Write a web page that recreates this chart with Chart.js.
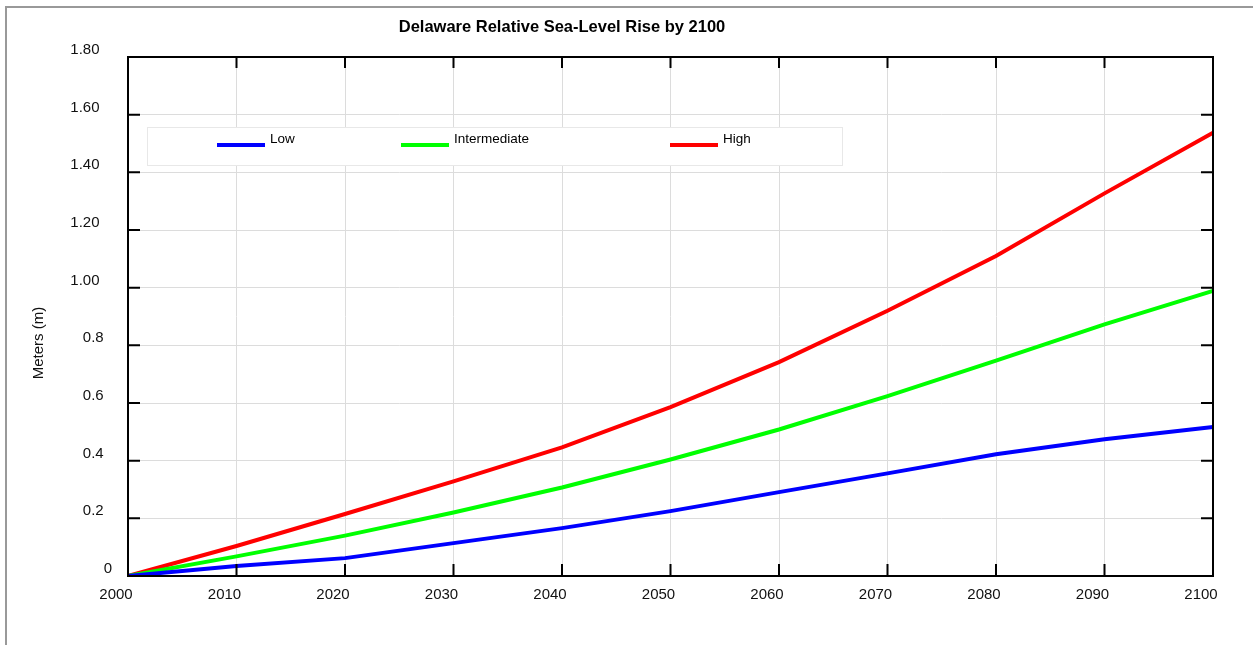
<!DOCTYPE html>
<html>
<head>
<meta charset="utf-8">
<title>Delaware Relative Sea-Level Rise by 2100</title>
<script src="https://cdn.jsdelivr.net/npm/chart.js@4.4.1/dist/chart.umd.min.js"></script>
<style>
  html, body { margin: 0; padding: 0; background: #fff; }
  #wrap { width: 1253px; height: 645px; }
</style>
</head>
<body>
<div id="wrap"><canvas id="slrChart" width="1253" height="645"></canvas></div>
<script>
// values, metres of rise per decade
var years = ['2000', '2010', '2020', '2030', '2040', '2050', '2060', '2070', '2080', '2090', '2100'];
var lowRise = [0, 0.035, 0.062, 0.114, 0.166, 0.225, 0.291, 0.356, 0.422, 0.474, 0.517];
var intermediateRise = [0, 0.068, 0.140, 0.220, 0.307, 0.404, 0.508, 0.624, 0.747, 0.873, 0.989];
var highRise = [0, 0.104, 0.215, 0.328, 0.446, 0.586, 0.742, 0.920, 1.110, 1.327, 1.537];

var yTickValues = [0, 0.2, 0.4, 0.6, 0.8, 1.0, 1.2, 1.4, 1.6, 1.8];
var yTickLabels = ['0', '0.2', '0.4', '0.6', '0.8', '1.00', '1.20', '1.40', '1.60', '1.80'];

var chartTitle = 'Delaware Relative Sea-Level Rise by 2100';
var yAxisTitle = 'Meters (m)';

var FONT = "'Liberation Sans', Arial, Helvetica, sans-serif";
Chart.defaults.font.family = FONT;
Chart.defaults.color = '#111';

// frame, inward ticks, title and boxed legend as the original chart draws them
var framePlugin = {
  id: 'frame',
  beforeDraw: function(chart, args, opts) {
    var ctx = chart.ctx;
    ctx.save();
    ctx.strokeStyle = '#999';
    ctx.lineWidth = 2;
    ctx.beginPath();
    ctx.moveTo(6, chart.height);
    ctx.lineTo(6, 7);
    ctx.lineTo(chart.width, 7);
    ctx.stroke();

    ctx.fillStyle = '#000';
    ctx.font = 'bold 16.5px ' + FONT;
    ctx.textAlign = 'center';
    ctx.textBaseline = 'middle';
    ctx.fillText(chartTitle, opts.titleX, opts.titleY);

    ctx.font = '15px ' + FONT;
    ctx.fillStyle = '#111';
    ctx.translate(opts.axisTitleX, opts.axisTitleY);
    ctx.rotate(-Math.PI / 2);
    ctx.fillText(yAxisTitle, 0, 0);
    ctx.restore();
  },
  afterDatasetsDraw: function(chart, args, opts) {
    var ctx = chart.ctx;
    var a = chart.chartArea;
    var xs = chart.scales.x, ys = chart.scales.y;
    var tl = opts.tickLength;
    ctx.save();
    ctx.strokeStyle = '#000';
    ctx.lineWidth = 2;
    ctx.strokeRect(a.left, a.top, a.right - a.left, a.bottom - a.top);

    ctx.beginPath();
    xs.ticks.forEach(function(t, i) {
      var px = xs.getPixelForTick(i);
      ctx.moveTo(px, a.bottom); ctx.lineTo(px, a.bottom - tl);
      ctx.moveTo(px, a.top); ctx.lineTo(px, a.top + tl - 1);
    });
    ys.ticks.forEach(function(t) {
      var py = ys.getPixelForValue(t.value);
      ctx.moveTo(a.left, py); ctx.lineTo(a.left + tl, py);
      ctx.moveTo(a.right, py); ctx.lineTo(a.right - tl, py);
    });
    ctx.stroke();

    // legend box
    var lb = opts.legendBox;
    ctx.fillStyle = '#fff';
    ctx.fillRect(lb.x, lb.y, lb.w, lb.h);
    ctx.strokeStyle = '#e8e8e8';
    ctx.lineWidth = 1;
    ctx.strokeRect(lb.x + 0.5, lb.y + 0.5, lb.w, lb.h);

    ctx.font = '13.5px ' + FONT;
    ctx.textAlign = 'left';
    ctx.textBaseline = 'middle';
    chart.data.datasets.forEach(function(ds, i) {
      var x0 = opts.legendItemX[i];
      ctx.strokeStyle = ds.borderColor;
      ctx.lineWidth = 4;
      ctx.beginPath();
      ctx.moveTo(x0, opts.legendLineY);
      ctx.lineTo(x0 + opts.legendLineLen, opts.legendLineY);
      ctx.stroke();
      ctx.fillStyle = '#000';
      ctx.fillText(ds.label, x0 + opts.legendLineLen + 5, opts.legendTextY);
    });
    ctx.restore();
  }
};

function padLabel(s) {
  // the original labels sit further left the longer they are
  return s + (s.length >= 4 ? '   ' : s.length === 3 ? '  ' : '');
}

var ctx = document.getElementById('slrChart');
new Chart(ctx, {
  type: 'line',
  data: {
    labels: years,
    datasets: [
      { label: 'Low', data: lowRise, borderColor: '#0000ff' },
      { label: 'Intermediate', data: intermediateRise, borderColor: '#00ff00' },
      { label: 'High', data: highRise, borderColor: '#ff0000' }
    ]
  },
  options: {
    responsive: false,
    animation: false,
    layout: { padding: { top: 57, right: 40, left: 0, bottom: 0 } },
    elements: {
      point: { radius: 0 },
      line: { borderWidth: 4, tension: 0, fill: false }
    },
    scales: {
      x: {
        type: 'category',
        offset: false,
        grid: { color: '#dcdcdc', lineWidth: 1, drawTicks: false },
        border: { display: false },
        ticks: { font: { size: 15 }, padding: 10, labelOffset: -12, maxRotation: 0, autoSkip: false },
        afterFit: function(s) { s.height = 69; }
      },
      y: {
        min: 0,
        max: 1.8,
        afterBuildTicks: function(s) {
          s.ticks = yTickValues.map(function(v) { return { value: v }; });
        },
        grid: { color: '#dcdcdc', lineWidth: 1, drawTicks: false },
        border: { display: false },
        ticks: {
          font: { size: 15 },
          padding: 16,
          labelOffset: -7,
          callback: function(v, i) { return padLabel(yTickLabels[i]); }
        },
        afterFit: function(s) { s.width = 128; }
      }
    },
    plugins: {
      legend: { display: false },
      tooltip: { enabled: false },
      frame: {
        tickLength: 12,
        titleX: 562,
        titleY: 27,
        axisTitleX: 39,
        axisTitleY: 343,
        legendBox: { x: 147, y: 127, w: 695, h: 38 },
        legendItemX: [217, 401, 670],
        legendLineLen: 48,
        legendLineY: 145,
        legendTextY: 139
      }
    }
  },
  plugins: [framePlugin]
});
</script>
</body>
</html>
